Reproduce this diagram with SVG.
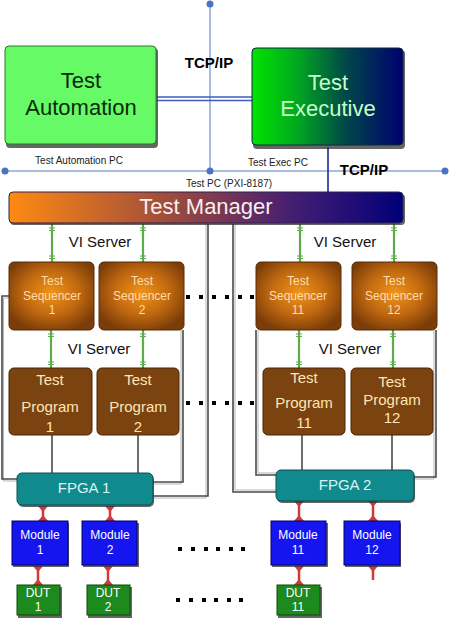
<svg xmlns="http://www.w3.org/2000/svg" width="450" height="619" viewBox="0 0 450 619">
<style>
text{font-family:"Liberation Sans",Arial,sans-serif;text-anchor:middle}
.net{stroke:#8fa6d4;stroke-width:1.5;fill:none}
.dot{fill:#4a74c2}
.w{fill:none;stroke:#4a4a4a;stroke-width:1.6}
.wl{fill:none;stroke:#b5b5b5;stroke-width:1}
.g{stroke:#5cae4c;stroke-width:2.2;fill:none}
.tk{stroke:#5cae4c;stroke-width:1.2}
.r{stroke:#d03a3a;stroke-width:2.5;fill:none}
.ra{fill:#d03a3a}
.sq{fill:url(#seqG);stroke:#5a2c06;stroke-width:1}
.sqt{fill:#ffdcb0;font-size:12px}
.pg{fill:#7b4310;stroke:#4a2606;stroke-width:1}
.pgt{fill:#ffe6b4;font-size:15px}
.fp{fill:#108a8c;stroke:#0a5050;stroke-width:1}
.fpt{fill:#d8f4f4;font-size:15px}
.md{fill:#1515f0;stroke:#00006a;stroke-width:1}
.mdt{fill:#ffffff;font-size:12px}
.du{fill:#1c8a1c;stroke:#0a4a0a;stroke-width:1}
.dut{fill:#ffffff;font-size:12px}
.sh{fill:#333333;opacity:0.75}
.vi{fill:#111;font-size:15px}
.bd{fill:#000}
</style>
<defs>
<linearGradient id="execG" x1="0" y1="0" x2="1" y2="0">
<stop offset="0" stop-color="#00e400"/>
<stop offset="0.3" stop-color="#00a820"/>
<stop offset="0.62" stop-color="#004848"/>
<stop offset="1" stop-color="#000070"/>
</linearGradient>
<linearGradient id="mgrG" x1="0" y1="0" x2="1" y2="0">
<stop offset="0" stop-color="#ff8a12"/>
<stop offset="0.42" stop-color="#9a4a3e"/>
<stop offset="0.7" stop-color="#4a2070"/>
<stop offset="1" stop-color="#00007a"/>
</linearGradient>
<radialGradient id="seqG" cx="0.5" cy="0.45" r="0.6">
<stop offset="0" stop-color="#f09418"/>
<stop offset="0.55" stop-color="#c06810"/>
<stop offset="1" stop-color="#7a3c08"/>
</radialGradient>
</defs>

<!-- network lines -->
<g id="network">
<line class="net" x1="210" y1="4" x2="210" y2="171"/>
<line class="net" x1="5" y1="171" x2="445" y2="171"/>
<circle class="dot" cx="210" cy="4" r="3.5"/>
<circle class="dot" cx="5" cy="171" r="3.5"/>
<circle class="dot" cx="210" cy="171" r="3.5"/>
<circle class="dot" cx="445" cy="171" r="3.5"/>
<text x="79" y="164" style="font-size:10px;fill:#222">Test Automation PC</text>
<text x="278" y="166" style="font-size:10px;fill:#222">Test Exec PC</text>
<text x="229" y="187" style="font-size:10px;fill:#222">Test PC (PXI-8187)</text>
</g>

<!-- connectors -->
<g id="connectors">
<line x1="157" y1="97" x2="252" y2="97" stroke="#3e5cc0" stroke-width="1.5"/>
<line x1="157" y1="100.5" x2="252" y2="100.5" stroke="#3e5cc0" stroke-width="1.5"/>
<text x="209" y="68" style="font-size:15px;font-weight:bold;fill:#000">TCP/IP</text>
<line x1="328" y1="147" x2="328" y2="193" stroke="#2f3fa0" stroke-width="1.8"/>
<text x="364" y="175" style="font-size:15px;font-weight:bold;fill:#000">TCP/IP</text>

<!-- VI server green links -->
<g>
<line class="g" x1="52" y1="224" x2="52" y2="262"/>
<line class="g" x1="143" y1="224" x2="143" y2="262"/>
<line class="g" x1="300" y1="224" x2="300" y2="262"/>
<line class="g" x1="394" y1="224" x2="394" y2="262"/>
<line class="g" x1="51" y1="330" x2="51" y2="368"/>
<line class="g" x1="143" y1="330" x2="143" y2="368"/>
<line class="g" x1="299" y1="330" x2="299" y2="368"/>
<line class="g" x1="393" y1="330" x2="393" y2="368"/>
<path class="tk" d="M49 228h6M49 230.5h6M49 256h6M49 258.5h6M140 228h6M140 230.5h6M140 256h6M140 258.5h6M297 228h6M297 230.5h6M297 256h6M297 258.5h6M391 228h6M391 230.5h6M391 256h6M391 258.5h6"/>
<path class="tk" d="M48 334h6M48 336.5h6M48 362h6M48 364.5h6M140 334h6M140 336.5h6M140 362h6M140 364.5h6M296 334h6M296 336.5h6M296 362h6M296 364.5h6M390 334h6M390 336.5h6M390 362h6M390 364.5h6"/>
</g>
<text class="vi" x="100" y="247">VI Server</text>
<text class="vi" x="345" y="247">VI Server</text>
<text class="vi" x="99" y="354">VI Server</text>
<text class="vi" x="350" y="354">VI Server</text>

<!-- gray wires to FPGAs -->
<g>
<path class="wl" d="M9 298H3.5V481H17"/>
<path class="w" d="M9 296H2V479H17"/>
<path class="wl" d="M181 330V484H153"/>
<path class="w" d="M183 330V482H153"/>
<path class="wl" d="M206 224V498H153"/>
<path class="w" d="M208 224V496H153"/>
<path class="wl" d="M235 224V490H276"/>
<path class="w" d="M233 224V492H276"/>
<path class="wl" d="M258 330V473H276"/>
<path class="w" d="M256 330V475H276"/>
<path class="wl" d="M434 330V479H414"/>
<path class="w" d="M436 330V477H414"/>
<line class="w" x1="52" y1="435" x2="52" y2="473"/>
<line class="w" x1="138" y1="435" x2="138" y2="473"/>
<line class="w" x1="302" y1="435" x2="302" y2="470"/>
<line class="w" x1="392" y1="435" x2="392" y2="470"/>
</g>

<!-- red links -->
<g>
<line class="r" x1="43" y1="506" x2="43" y2="521"/>
<path class="ra" d="M38 506h10l-5 6zM38 521h10l-5 -6z"/>
<line class="r" x1="110" y1="506" x2="110" y2="521"/>
<path class="ra" d="M105 506h10l-5 6zM105 521h10l-5 -6z"/>
<line class="r" x1="299" y1="501" x2="299" y2="521"/>
<path class="ra" d="M294 501h10l-5 6zM294 521h10l-5 -6z"/>
<line class="r" x1="373" y1="501" x2="373" y2="521"/>
<path class="ra" d="M368 501h10l-5 6zM368 521h10l-5 -6z"/>
<line class="r" x1="38" y1="566" x2="38" y2="585"/>
<path class="ra" d="M33 566h10l-5 6zM33 585h10l-5 -6z"/>
<line class="r" x1="108" y1="566" x2="108" y2="585"/>
<path class="ra" d="M103 566h10l-5 6zM103 585h10l-5 -6z"/>
<line class="r" x1="299" y1="566" x2="299" y2="585"/>
<path class="ra" d="M294 566h10l-5 6zM294 585h10l-5 -6z"/>
<line class="r" x1="373" y1="566" x2="373" y2="580"/>
<path class="ra" d="M368 566h10l-5 6z"/>
</g>

<!-- dotted ellipsis rows -->
<g class="bd">
<rect x="186" y="295" width="4" height="4"/><rect x="199" y="295" width="4" height="4"/><rect x="212" y="295" width="4" height="4"/><rect x="225" y="295" width="4" height="4"/><rect x="238" y="295" width="4" height="4"/><rect x="250" y="295" width="4" height="4"/>
<rect x="186" y="401" width="4" height="4"/><rect x="199" y="401" width="4" height="4"/><rect x="212" y="401" width="4" height="4"/><rect x="225" y="401" width="4" height="4"/><rect x="238" y="401" width="4" height="4"/><rect x="250" y="401" width="4" height="4"/>
<rect x="178" y="547" width="4" height="4"/><rect x="191" y="547" width="4" height="4"/><rect x="204" y="547" width="4" height="4"/><rect x="216" y="547" width="4" height="4"/><rect x="229" y="547" width="4" height="4"/><rect x="241" y="547" width="4" height="4"/>
<rect x="176" y="598" width="4" height="4"/><rect x="189" y="598" width="4" height="4"/><rect x="202" y="598" width="4" height="4"/><rect x="214" y="598" width="4" height="4"/><rect x="227" y="598" width="4" height="4"/><rect x="239" y="598" width="4" height="4"/>
</g>
</g>

<!-- nodes -->
<g id="test-automation">
<rect class="sh" x="6" y="48" width="152" height="100" rx="4"/>
<rect x="5" y="46" width="151" height="98" rx="4" fill="#66fa66" stroke="#2a7a2a" stroke-width="1"/>
<text x="81" y="88" style="font-size:22px;fill:#0a2a0a">Test</text>
<text x="81" y="115" style="font-size:22px;fill:#0a2a0a">Automation</text>
</g>
<g id="test-executive">
<rect class="sh" x="253" y="50" width="152" height="99" rx="4"/>
<rect x="252" y="48" width="151" height="97" rx="4" fill="url(#execG)" stroke="#0a2a40" stroke-width="1"/>
<text x="328" y="90" style="font-size:22px;fill:#c8ffc8">Test</text>
<text x="328" y="116" style="font-size:22px;fill:#c8ffc8">Executive</text>
</g>
<g id="test-manager">
<rect class="sh" x="10" y="194" width="395" height="31" rx="4"/>
<rect x="9" y="192" width="394" height="31" rx="4" fill="url(#mgrG)" stroke="#302050" stroke-width="1"/>
<text x="206" y="214" style="font-size:22px;fill:#f8f0f0">Test Manager</text>
</g>

<g id="seq1"><rect class="sq" x="9" y="262" width="85" height="68" rx="5"/>
<text class="sqt" x="52" y="285">Test</text><text class="sqt" x="52" y="300">Sequencer</text><text class="sqt" x="52" y="314">1</text></g>
<g id="seq2"><rect class="sq" x="99" y="262" width="85" height="68" rx="5"/>
<text class="sqt" x="142" y="285">Test</text><text class="sqt" x="142" y="300">Sequencer</text><text class="sqt" x="142" y="314">2</text></g>
<g id="seq11"><rect class="sq" x="256" y="262" width="85" height="68" rx="5"/>
<text class="sqt" x="298" y="285">Test</text><text class="sqt" x="298" y="300">Sequencer</text><text class="sqt" x="298" y="314">11</text></g>
<g id="seq12"><rect class="sq" x="352" y="262" width="85" height="68" rx="5"/>
<text class="sqt" x="394" y="285">Test</text><text class="sqt" x="394" y="300">Sequencer</text><text class="sqt" x="394" y="314">12</text></g>

<g id="prog1"><rect class="pg" x="9" y="368" width="83" height="67" rx="5"/>
<text class="pgt" x="50" y="385">Test</text><text class="pgt" x="50" y="412">Program</text><text class="pgt" x="50" y="432">1</text></g>
<g id="prog2"><rect class="pg" x="97" y="368" width="82" height="67" rx="5"/>
<text class="pgt" x="138" y="385">Test</text><text class="pgt" x="138" y="412">Program</text><text class="pgt" x="138" y="432">2</text></g>
<g id="prog11"><rect class="pg" x="263" y="368" width="82" height="67" rx="5"/>
<text class="pgt" x="304" y="383">Test</text><text class="pgt" x="304" y="408">Program</text><text class="pgt" x="304" y="428">11</text></g>
<g id="prog12"><rect class="pg" x="351" y="368" width="82" height="67" rx="5"/>
<text class="pgt" x="392" y="387">Test</text><text class="pgt" x="392" y="405">Program</text><text class="pgt" x="392" y="423">12</text></g>

<g id="fpga1"><rect class="sh" x="18" y="475" width="136" height="32" rx="5"/><rect class="fp" x="17" y="473" width="136" height="32" rx="5"/>
<text class="fpt" x="84" y="493">FPGA 1</text></g>
<g id="fpga2"><rect class="sh" x="277" y="472" width="138" height="31" rx="5"/><rect class="fp" x="276" y="470" width="138" height="31" rx="5"/>
<text class="fpt" x="345" y="490">FPGA 2</text></g>

<g id="mod1"><rect class="sh" x="13" y="523" width="56" height="44"/><rect class="md" x="12" y="521" width="56" height="44"/>
<text class="mdt" x="40" y="539">Module</text><text class="mdt" x="40" y="554">1</text></g>
<g id="mod2"><rect class="sh" x="83" y="523" width="56" height="44"/><rect class="md" x="82" y="521" width="55" height="44"/>
<text class="mdt" x="110" y="539">Module</text><text class="mdt" x="110" y="554">2</text></g>
<g id="mod11"><rect class="sh" x="272" y="523" width="56" height="44"/><rect class="md" x="271" y="521" width="55" height="44"/>
<text class="mdt" x="298" y="539">Module</text><text class="mdt" x="298" y="554">11</text></g>
<g id="mod12"><rect class="sh" x="345" y="523" width="56" height="44"/><rect class="md" x="344" y="521" width="56" height="44"/>
<text class="mdt" x="372" y="539">Module</text><text class="mdt" x="372" y="554">12</text></g>

<g id="dut1"><rect class="sh" x="18" y="587" width="44" height="31"/><rect class="du" x="17" y="585" width="43" height="30"/>
<text class="dut" x="38" y="597">DUT</text><text class="dut" x="38" y="611">1</text></g>
<g id="dut2"><rect class="sh" x="88" y="587" width="44" height="31"/><rect class="du" x="87" y="585" width="43" height="30"/>
<text class="dut" x="108" y="597">DUT</text><text class="dut" x="108" y="611">2</text></g>
<g id="dut11"><rect class="sh" x="278" y="587" width="44" height="31"/><rect class="du" x="277" y="585" width="43" height="30"/>
<text class="dut" x="298" y="597">DUT</text><text class="dut" x="298" y="611">11</text></g>
</svg>
